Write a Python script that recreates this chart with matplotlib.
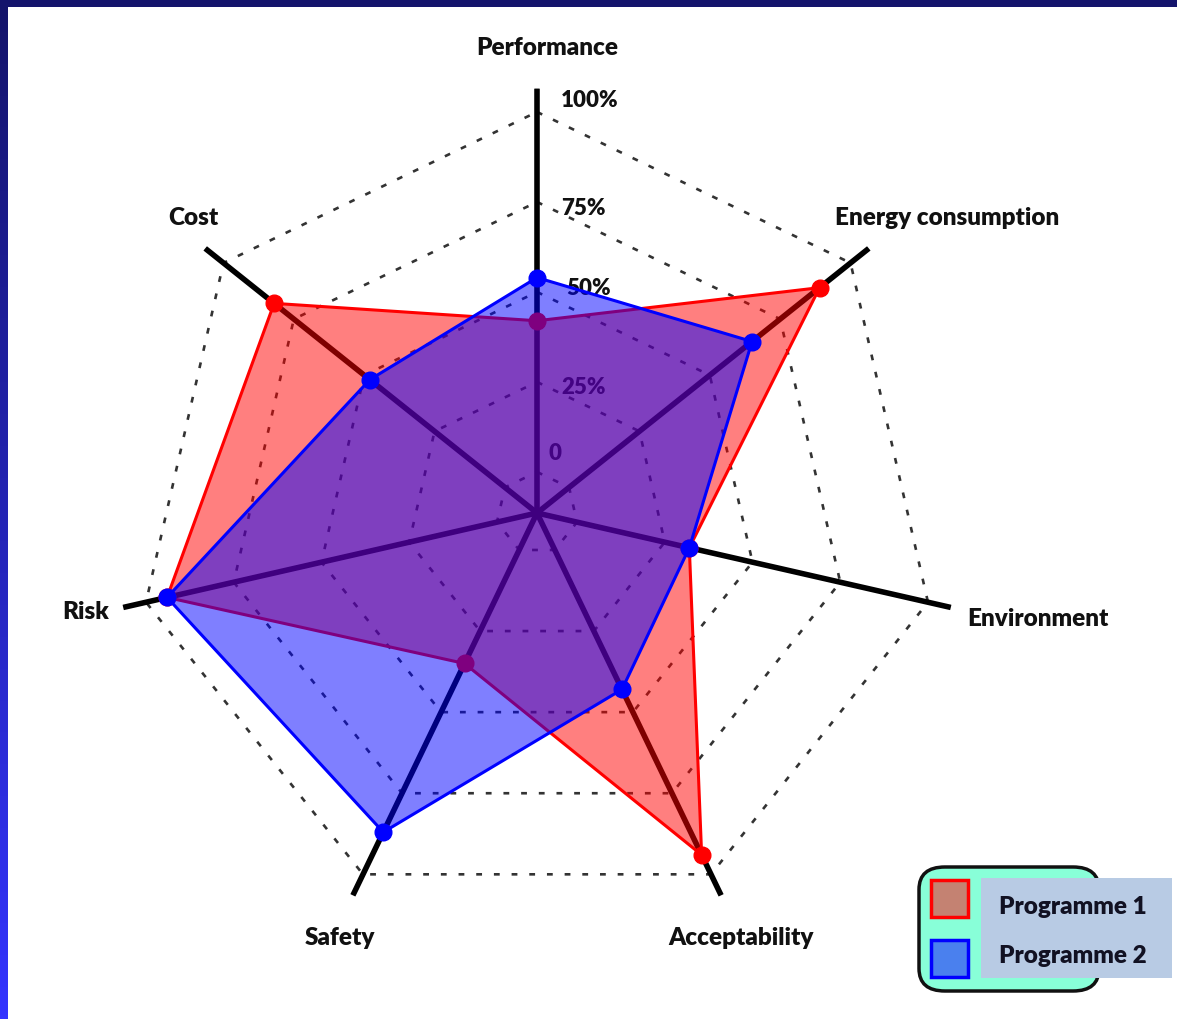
import numpy as np
import matplotlib.pyplot as plt
from matplotlib.patches import FancyBboxPatch, Rectangle
from matplotlib.colors import LinearSegmentedColormap

plt.rcParams['font.family'] = ['Lato', 'DejaVu Sans']

categories = ['Performance', 'Energy consumption', 'Environment', 'Acceptability',
              'Safety', 'Risk', 'Cost']
programme_1 = [42, 89, 32, 94, 35, 94, 82]
programme_2 = [54, 65, 32, 43, 87, 94, 48]
ring_values = [0, 25, 50, 75, 100]
ring_labels = ['0', '25%', '50%', '75%', '100%']
series_names = ['Programme 1', 'Programme 2']

W, H, DPI = 1177, 1019, 100
fig = plt.figure(figsize=(W / DPI, H / DPI), dpi=DPI)
fig.patch.set_facecolor('white')

# frame: dark top band and left gradient strip
bg = fig.add_axes([0, 0, 8 / W, 1])
grad = np.linspace(0, 1, 256).reshape(-1, 1)
strip_cmap = LinearSegmentedColormap.from_list('strip', ['#3434ff', '#14146a'])
bg.imshow(grad, aspect='auto', cmap=strip_cmap, origin='lower', extent=[0, 1, 0, 1])
bg.axis('off')
top = fig.add_axes([0, 1 - 7 / H, 1, 7 / H])
top.set_facecolor('#14146c')
top.set_xticks([])
top.set_yticks([])
for s in top.spines.values():
    s.set_visible(False)

# radar axes: centre at (537, 513), 100% ring at 401 px
cx, cy = 537, 513
r_out = 106.5
r_min = -11.4
px_per_unit = 3.6
R_px = (r_out - r_min) * px_per_unit
ax = fig.add_axes([(cx - R_px) / W, (H - cy - R_px) / H, 2 * R_px / W, 2 * R_px / H],
                  projection='polar')
ax.set_theta_offset(np.pi / 2)
ax.set_theta_direction(-1)
ax.set_ylim(r_min, r_out)
ax.axis('off')

n = len(categories)
angles = np.linspace(0, 2 * np.pi, n, endpoint=False)
closed = np.concatenate([angles, angles[:1]])

# dotted heptagon rings
for v in ring_values:
    ax.plot(closed, [v] * (n + 1), color='#333333', lw=1.9, ls=(0, (2.2, 4.5)), zorder=1)

# spokes
for a in angles:
    ax.plot([a, a], [r_min, r_out], color='black', lw=4, solid_capstyle='round', zorder=2)

# series
styles = [('#ff0000', 0.5), ('#0000ff', 0.5)]
for vals, (col, al) in zip([programme_1, programme_2], styles):
    v = np.concatenate([vals, vals[:1]])
    ax.fill(closed, v, color=col, alpha=al, lw=0, zorder=3)
    ax.plot(closed, v, color=col, lw=2.2, zorder=3)
    ax.plot(angles, vals, 'o', color=col, ms=12, zorder=3)

# ring labels next to the top spoke (order follows ring_values), under the fills
label_offsets = [(11, 18), (24, -6), (29, 3), (24, -7), (24, 11)]
for v, lab, (dx, dy) in zip(ring_values, ring_labels, label_offsets):
    ax.annotate(lab, xy=(0, v), xytext=(dx, dy), textcoords='offset pixels',
                fontsize=16, fontweight='heavy', color='#111111', va='center', ha='left',
                zorder=2.5)

# category labels
cat_pos = [(547, 48), (947, 218), (1038, 619), (741, 938), (340, 938), (86, 612), (193, 218)]
for lab, (x, y) in zip(categories, cat_pos):
    fig.text(x / W, 1 - y / H, lab, fontsize=17.5, fontweight='heavy', color='#111111',
             ha='center', va='center')

# legend
box = FancyBboxPatch((919 / W, 1 - 991 / H), 180 / W, 124 / H,
                     boxstyle='round,pad=0,rounding_size=0.022', transform=fig.transFigure,
                     facecolor='#88ffd8', edgecolor='#111111', lw=2.5, zorder=5)
fig.patches.append(box)
fig.patches.append(Rectangle((981 / W, 1 - 978 / H), 191 / W, 100 / H,
                             transform=fig.transFigure, facecolor='#b8cbe4',
                             edgecolor='none', zorder=6))
sw_faces = ['#c48272', '#4a80ee']
sw_edges = ['#ff0000', '#0000ff']
for i, name in enumerate(series_names):
    y0 = 880 + i * 60
    fig.patches.append(Rectangle((931 / W, 1 - (y0 + 37) / H), 37 / W, 37 / H,
                                 transform=fig.transFigure, facecolor=sw_faces[i],
                                 edgecolor=sw_edges[i], lw=2.5, zorder=6))
    fig.text(1073 / W, 1 - (907 + i * 49) / H, name, fontsize=17.5, fontweight='heavy',
             color='#111122', ha='center', va='center', zorder=7)

fig.savefig('out.png', dpi=DPI)
